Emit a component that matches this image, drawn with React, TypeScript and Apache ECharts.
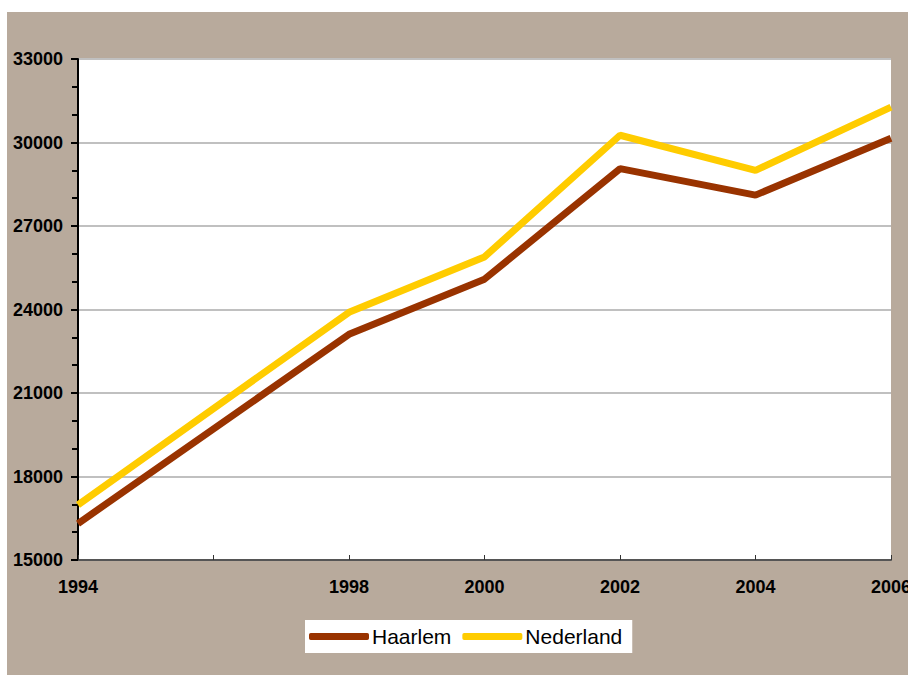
import React, { useEffect, useRef } from "react";
import * as echarts from "echarts";

const years = ["1994", "", "1998", "2000", "2002", "2004", "2006"];
const haarlem = [16310, null, 23110, 25090, 29060, 28110, 30150];
const nederland = [16980, null, 23900, 25890, 30260, 29000, 31270];
const seriesNames = ["Haarlem", "Nederland"];

const FONT = "'Liberation Sans', Arial, sans-serif";

export default function App() {
  const ref = useRef<HTMLDivElement>(null);
  useEffect(() => {
    if (!ref.current) return;
    const chart = echarts.init(ref.current, undefined, { renderer: "svg" });
    chart.setOption({
      animation: false,
      backgroundColor: "#ffffff",
      graphic: [
        {
          type: "rect",
          z: -10,
          silent: true,
          shape: { x: 7, y: 12, width: 901, height: 663 },
          style: { fill: "#b8aa9c" },
        },
      ],
      grid: {
        left: 78,
        right: 17,
        top: 59,
        bottom: 115,
        show: true,
        backgroundColor: "#ffffff",
        borderWidth: 0,
        containLabel: false,
        outerBoundsMode: "none",
      },
      legend: {
        left: 305,
        top: 620,
        backgroundColor: "#ffffff",
        padding: [6, 10, 6, 4],
        itemGap: 11,
        itemWidth: 60,
        itemHeight: 7,
        icon: "roundRect",
        textStyle: {
          fontFamily: FONT,
          fontSize: 21,
          lineHeight: 21,
          color: "#000",
          padding: [0, 0, 0, -2],
        },
        data: seriesNames,
      },
      xAxis: {
        type: "category",
        data: years,
        boundaryGap: false,
        axisLine: { lineStyle: { color: "#555", width: 2 } },
        axisTick: { inside: true, length: 5, lineStyle: { color: "#333", width: 1 } },
        axisLabel: {
          fontFamily: FONT,
          fontSize: 18,
          fontWeight: "bold",
          color: "#000",
          margin: 18,
          interval: 0,
        },
        splitLine: { show: false },
      },
      yAxis: {
        type: "value",
        min: 15000,
        max: 33000,
        interval: 3000,
        axisLine: { show: true, lineStyle: { color: "#000", width: 2 } },
        axisTick: { show: true, length: 7, lineStyle: { color: "#000", width: 2 } },
        minorTick: { show: true, splitNumber: 3, length: 6, lineStyle: { color: "#000", width: 2 } },
        axisLabel: {
          fontFamily: FONT,
          fontSize: 18,
          fontWeight: "bold",
          color: "#000",
          margin: 15,
          formatter: (v: number) => String(v),
        },
        splitLine: { show: true, lineStyle: { color: "#c0c0c0", width: 2 } },
      },
      series: [
        {
          name: seriesNames[0],
          type: "line",
          data: haarlem,
          connectNulls: true,
          showSymbol: false,
          symbol: "none",
          lineStyle: { color: "#993300", width: 7 },
          itemStyle: { color: "#993300" },
          z: 3,
        },
        {
          name: seriesNames[1],
          type: "line",
          data: nederland,
          connectNulls: true,
          showSymbol: false,
          symbol: "none",
          lineStyle: { color: "#ffcc00", width: 7 },
          itemStyle: { color: "#ffcc00" },
          z: 3,
        },
      ],
    });
    return () => chart.dispose();
  }, []);
  return (
    <div
      ref={ref}
      style={{ position: "absolute", left: 0, top: 0, width: 908, height: 675 }}
    />
  );
}
